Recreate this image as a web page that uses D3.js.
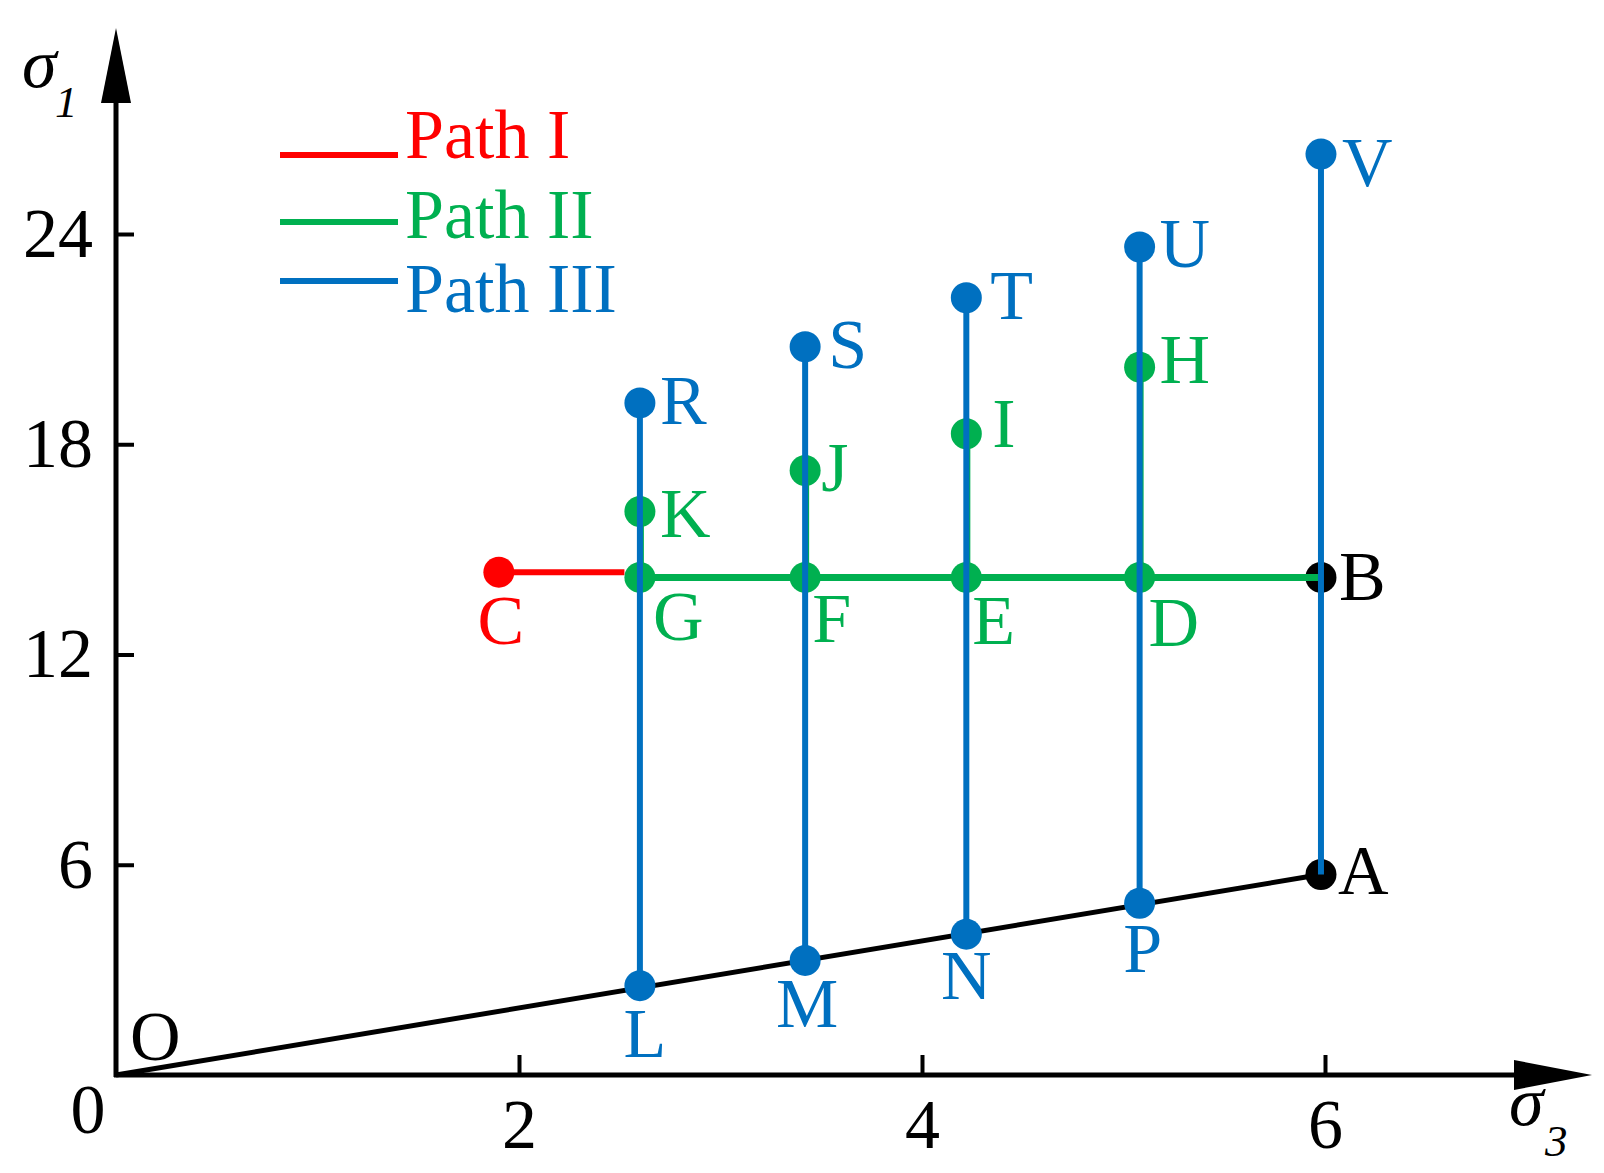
<!DOCTYPE html>
<html>
<head>
  <meta charset="utf-8">
  <title>Stress paths</title>
  <script src="https://d3js.org/d3.v7.min.js"></script>
  <style>
    body { margin: 0; background: #fff; }
    svg { display: block; }
    text { font-family: "Liberation Serif", "Times New Roman", serif; }
  </style>
</head>
<body>
  <svg id="chart" width="1604" height="1173"></svg>
  <script>
    // values (sigma3 on x, sigma1 on y)
    var columnS3    = [2.6, 3.42, 4.22, 5.08, 5.98];
    var lowerNames  = ['L', 'M', 'N', 'P', 'A'];
    var lowerS1     = [2.55, 3.27, 4.02, 4.9, 5.72];
    var middleNames = ['G', 'F', 'E', 'D', 'B'];
    var middleS1    = 14.2;
    var greenNames  = ['K', 'J', 'I', 'H'];
    var greenS1     = [16.08, 17.25, 18.3, 20.2];
    var topNames    = ['R', 'S', 'T', 'U', 'V'];
    var topS1       = [19.18, 20.78, 22.18, 23.63, 26.28];
    var startC      = [1.9, 14.35];

    var xTicks = [2, 4, 6],
        yTicks = [6, 12, 18, 24];

    var legendNames = ['Path I', 'Path II', 'Path III'];

    var red = '#ff0000', green = '#00b050', blue = '#0070c0', black = '#000';
    var legendColors = [red, green, blue];
    var fontSize = 70, r = 15.5;

    // label offsets (px) relative to the dot
    var labelPos = {
      R: [20, 21], S: [23, 21], T: [24, 21], U: [20, 20], V: [21, 32],
      K: [20, 25], J: [16, 20], I: [26, 13], H: [20, 16],
      G: [13, 63], F: [7, 65], E: [6, 67], D: [9, 69], B: [18, 23], A: [17, 19],
      L: [5, 71, 'middle'], M: [2, 67, 'middle'], N: [0, 65, 'middle'], P: [3, 69, 'middle'],
      C: [2, 72, 'middle']
    };

    var svg = d3.select('#chart');

    var x = d3.scaleLinear().domain([0, 6]).range([116, 1325]),
        y = d3.scaleLinear().domain([0, 24]).range([1075, 234]);

    // axes
    var yAxis = d3.axisLeft(y).tickValues(yTicks).tickFormat(d3.format('d'))
        .tickSize(-18).tickPadding(23);
    var xAxis = d3.axisBottom(x).tickValues(xTicks).tickFormat(d3.format('d'))
        .tickSize(-20).tickPadding(23);

    var gy = svg.append('g').attr('transform', 'translate(' + x(0) + ',0)').call(yAxis);
    var gx = svg.append('g').attr('transform', 'translate(0,' + y(0) + ')').call(xAxis);
    [gx, gy].forEach(function(g) {
      g.select('.domain').remove();
      g.selectAll('.tick line').attr('stroke', black).attr('stroke-width', 4);
      g.selectAll('.tick text')
          .attr('fill', black)
          .style('font-family', '"Liberation Serif", serif')
          .style('font-size', fontSize + 'px');
    });

    svg.append('line')
        .attr('x1', x(0)).attr('y1', y(0) + 2)
        .attr('x2', x(0)).attr('y2', 100)
        .attr('stroke', black).attr('stroke-width', 5);
    svg.append('line')
        .attr('x1', x(0) - 2).attr('y1', y(0))
        .attr('x2', 1518).attr('y2', y(0))
        .attr('stroke', black).attr('stroke-width', 5);
    svg.append('path')
        .attr('d', 'M' + x(0) + ',28L' + (x(0) - 15) + ',103L' + (x(0) + 15) + ',103Z')
        .attr('fill', black);
    svg.append('path')
        .attr('d', 'M1592,' + y(0) + 'L1514,' + (y(0) - 15) + 'L1514,' + (y(0) + 15) + 'Z')
        .attr('fill', black);

    svg.append('text').attr('x', 88).attr('y', 1133)
        .attr('text-anchor', 'middle').style('font-size', fontSize + 'px').text('0');

    // axis titles
    svg.append('text').attr('x', 22).attr('y', 87)
        .style('font-style', 'italic').style('font-size', fontSize + 'px').text('σ');
    svg.append('text').attr('x', 55).attr('y', 117)
        .style('font-style', 'italic').style('font-size', '45px').text('1');
    svg.append('text').attr('x', 1509).attr('y', 1125)
        .style('font-style', 'italic').style('font-size', fontSize + 'px').text('σ');
    svg.append('text').attr('x', 1545).attr('y', 1156)
        .style('font-style', 'italic').style('font-size', '45px').text('3');

    // legend
    var legend = svg.append('g').selectAll('g')
        .data(legendNames).enter().append('g')
        .attr('transform', function(d, i) { return 'translate(0,' + [155, 222, 281][i] + ')'; });
    legend.append('line')
        .attr('x1', 280).attr('x2', 398)
        .attr('stroke', function(d, i) { return legendColors[i]; })
        .attr('stroke-width', 6);
    legend.append('text')
        .attr('x', 405).attr('y', function(d, i) { return [3, 16, 31][i]; })
        .attr('fill', function(d, i) { return legendColors[i]; })
        .style('font-size', fontSize + 'px')
        .text(function(d) { return d; });

    // build point list
    var points = [];
    columnS3.forEach(function(s3, i) {
      points.push({name: lowerNames[i], s3: s3, s1: lowerS1[i], color: i == 4 ? black : blue, dot: i == 4 ? black : blue});
      points.push({name: middleNames[i], s3: s3, s1: middleS1, color: i == 4 ? black : green, dot: i == 4 ? black : green});
      if (i < 4) points.push({name: greenNames[i], s3: s3, s1: greenS1[i], color: green, dot: green});
      points.push({name: topNames[i], s3: s3, s1: topS1[i], color: blue, dot: blue});
    });
    points.push({name: 'C', s3: startC[0], s1: startC[1], color: red, dot: red});

    // line O-A
    svg.append('line')
        .attr('x1', x(0)).attr('y1', y(0))
        .attr('x2', x(columnS3[4])).attr('y2', y(lowerS1[4]))
        .attr('stroke', black).attr('stroke-width', 5);

    // path I
    svg.append('line')
        .attr('x1', x(startC[0])).attr('y1', y(startC[1]))
        .attr('x2', x(columnS3[0]) - r).attr('y2', y(startC[1]))
        .attr('stroke', red).attr('stroke-width', 6);

    // non-blue dots below the lines
    var under = points.filter(function(p) { return p.dot !== blue; });
    svg.append('g').selectAll('circle').data(under).enter().append('circle')
        .attr('cx', function(p) { return x(p.s3); })
        .attr('cy', function(p) { return y(p.s1); })
        .attr('r', r)
        .attr('fill', function(p) { return p.dot; });

    // path II
    svg.append('line')
        .attr('x1', x(columnS3[0])).attr('y1', y(middleS1))
        .attr('x2', x(columnS3[4])).attr('y2', y(middleS1))
        .attr('stroke', green).attr('stroke-width', 7);
    svg.append('g').selectAll('line').data(greenS1).enter().append('line')
        .attr('x1', function(d, i) { return x(columnS3[i]) + 1; })
        .attr('x2', function(d, i) { return x(columnS3[i]) + 1; })
        .attr('y1', y(middleS1))
        .attr('y2', function(d) { return y(d); })
        .attr('stroke', green).attr('stroke-width', 6);

    // path III
    svg.append('g').selectAll('line').data(columnS3).enter().append('line')
        .attr('x1', function(d) { return x(d); })
        .attr('x2', function(d) { return x(d); })
        .attr('y1', function(d, i) { return y(lowerS1[i]); })
        .attr('y2', function(d, i) { return y(topS1[i]); })
        .attr('stroke', blue).attr('stroke-width', 6);

    var over = points.filter(function(p) { return p.dot === blue; });
    svg.append('g').selectAll('circle').data(over).enter().append('circle')
        .attr('cx', function(p) { return x(p.s3); })
        .attr('cy', function(p) { return y(p.s1); })
        .attr('r', r)
        .attr('fill', blue);

    // point labels
    svg.append('g').selectAll('text').data(points).enter().append('text')
        .attr('x', function(p) { return x(p.s3) + labelPos[p.name][0]; })
        .attr('y', function(p) { return y(p.s1) + labelPos[p.name][1]; })
        .attr('text-anchor', function(p) { return labelPos[p.name][2] || 'start'; })
        .attr('fill', function(p) { return p.color; })
        .style('font-size', fontSize + 'px')
        .text(function(p) { return p.name; });

    svg.append('text').attr('x', 130).attr('y', 1060)
        .style('font-size', fontSize + 'px').text('O');
  </script>
</body>
</html>
